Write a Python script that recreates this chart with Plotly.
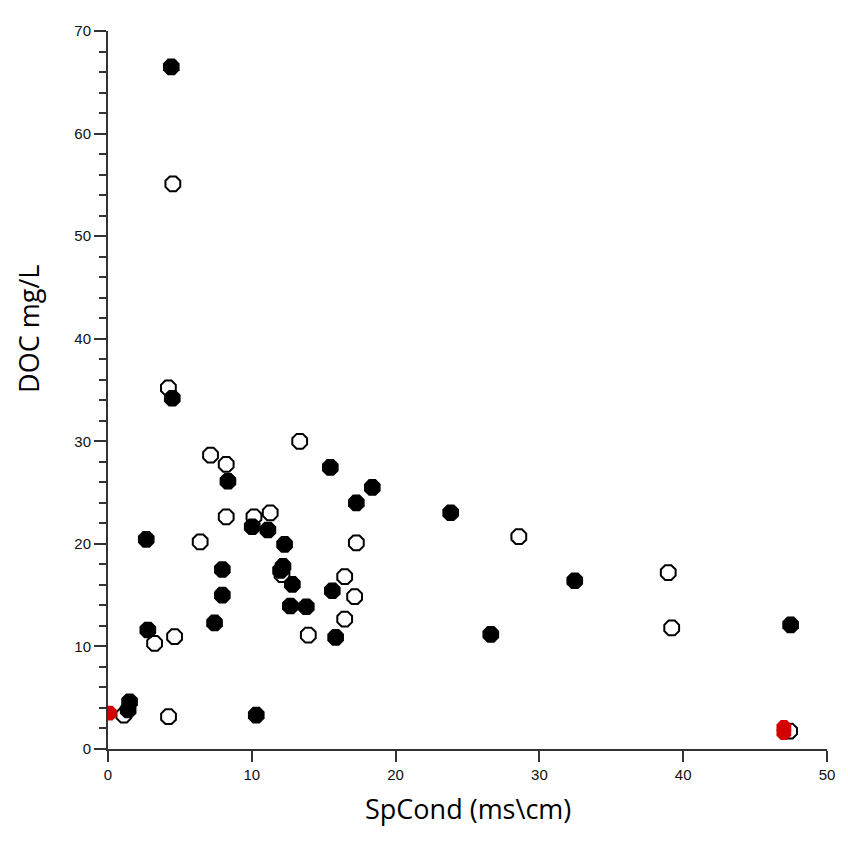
import plotly.graph_objects as go

# Filled (black) series
filled_x = [4.40, 4.47, 8.34, 15.46, 18.38, 17.27, 10.03, 11.12, 2.66, 12.28, 7.95, 12.17, 12.00,
            12.82, 15.60, 7.95, 12.68, 13.79, 7.41, 2.77, 15.83, 1.50, 1.40, 10.31, 23.83, 32.46,
            26.62, 47.47]
filled_y = [66.5, 34.2, 26.1, 27.45, 25.5, 24.0, 21.67, 21.35, 20.44, 19.95, 17.5, 17.8, 17.4,
            16.05, 15.43, 15.0, 13.94, 13.87, 12.3, 11.6, 10.88, 4.6, 3.8, 3.3, 23.03, 16.4,
            11.18, 12.1]

# Open (white) series
open_x = [4.51, 4.20, 7.13, 8.22, 13.33, 8.22, 10.15, 11.28, 6.41, 17.27, 12.10, 16.46, 17.15,
          16.46, 3.24, 4.63, 13.93, 1.10, 4.21, 28.57, 38.96, 39.20, 47.40]
open_y = [55.1, 35.2, 28.65, 27.75, 30.0, 22.64, 22.64, 23.03, 20.2, 20.1, 17.0, 16.8, 14.85,
          12.67, 10.3, 10.95, 11.11, 3.3, 3.15, 20.7, 17.2, 11.8, 1.75]

# Red series
red_x = [0.1, 47.0, 47.0]
red_y = [3.5, 2.1, 1.6]

x_ticks = [0, 10, 20, 30, 40, 50]
y_ticks = [0, 10, 20, 30, 40, 50, 60, 70]
x_title = "SpCond (ms\\cm)"
y_title = "DOC mg/L"

fig = go.Figure()
fig.add_trace(go.Scatter(x=open_x, y=open_y, mode="markers",
                         marker=dict(symbol="octagon", size=16, color="white",
                                     line=dict(color="black", width=2)),
                         showlegend=False))
fig.add_trace(go.Scatter(x=filled_x, y=filled_y, mode="markers",
                         marker=dict(symbol="octagon", size=18, color="black",
                                     line=dict(color="black", width=0)),
                         showlegend=False))
fig.add_trace(go.Scatter(x=red_x, y=red_y, mode="markers",
                         marker=dict(symbol="octagon", size=16, color="#d40000",
                                     line=dict(color="#c00000", width=0)),
                         showlegend=False))

axis_col = "#333333"
tick_font = dict(family="Liberation Sans, Arial", size=15, color="#111111")
fig.update_layout(
    width=840, height=844,
    margin=dict(l=100, r=21, t=23, b=103, autoexpand=False),
    plot_bgcolor="white", paper_bgcolor="white",
    xaxis=dict(range=[0, 50], tickvals=x_ticks, showgrid=False, zeroline=False,
               automargin=False,
               showline=True, linecolor=axis_col, linewidth=2,
               ticks="outside", ticklen=11, tickwidth=2, tickcolor=axis_col,
               tickfont=tick_font),
    yaxis=dict(range=[0, 70], tickvals=y_ticks, showgrid=False, zeroline=False,
               automargin=False,
               showline=True, linecolor=axis_col, linewidth=2,
               ticks="outside", ticklen=12, tickwidth=2, tickcolor=axis_col,
               minor=dict(dtick=2, ticks="outside", ticklen=7, tickwidth=2, tickcolor=axis_col),
               tickfont=tick_font),
    annotations=[
        dict(text=x_title, xref="paper", yref="paper", x=0.5, y=-0.083,
             xanchor="center", yanchor="middle", showarrow=False,
             font=dict(family="Open Sans", size=27, color="black")),
        dict(text=y_title, xref="paper", yref="paper", x=-0.11, y=0.585,
             xanchor="center", yanchor="middle", showarrow=False, textangle=-90,
             font=dict(family="Open Sans", size=27, color="black")),
    ],
)

fig.write_html("out.html")
